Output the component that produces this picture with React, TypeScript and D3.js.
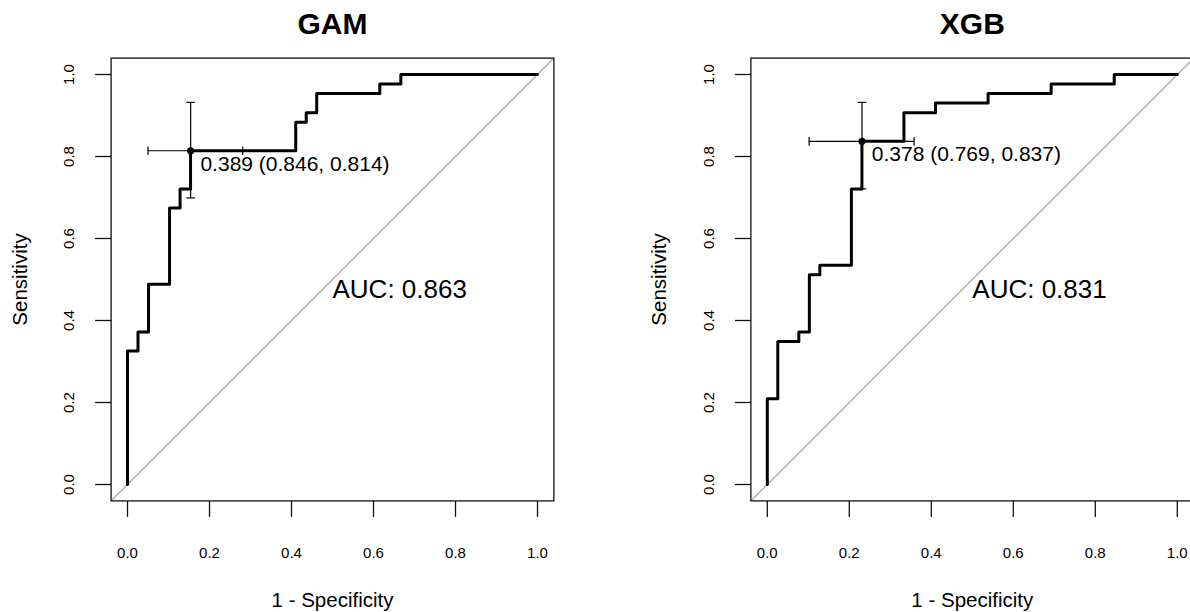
import React from "react";
import * as d3 from "d3";

// ROC step curves: each point is the right end of a horizontal run (1 - specificity) and its sensitivity level
const gamFpr = [0, 0.0256, 0.0513, 0.1026, 0.1282, 0.1538, 0.4103, 0.4359, 0.4615, 0.6154, 0.6667, 1.0];
const gamTpr = [0, 0.3256, 0.372, 0.4884, 0.6744, 0.7209, 0.814, 0.8837, 0.907, 0.9535, 0.9767, 1.0];

const xgbFpr = [0, 0.0256, 0.0769, 0.1026, 0.1282, 0.2051, 0.2308, 0.3333, 0.4103, 0.5385, 0.6923, 0.8462, 1.0];
const xgbTpr = [0, 0.2093, 0.3488, 0.372, 0.5116, 0.5349, 0.7209, 0.8372, 0.907, 0.9302, 0.9535, 0.9767, 1.0];

// Best threshold: [threshold, specificity, sensitivity]
const gamBest = [0.389, 0.846, 0.814];
const xgbBest = [0.378, 0.769, 0.837];

// Confidence intervals at the best threshold: specificity [low, high], sensitivity [low, high]
const gamSpecCI = [0.719, 0.95];
const gamSensCI = [0.699, 0.932];
const xgbSpecCI = [0.642, 0.898];
const xgbSensCI = [0.721, 0.932];

const gamAuc = 0.863;
const xgbAuc = 0.831;

const titles = ["GAM", "XGB"];
const tickValues = [0, 0.2, 0.4, 0.6, 0.8, 1.0];

const FONT = "'Liberation Sans', Arial, Helvetica, sans-serif";

type PanelProps = {
  title: string;
  left: number;
  fpr: number[];
  tpr: number[];
  best: number[];
  specCI: number[];
  sensCI: number[];
  auc: number;
};

function Panel({ title, left, fpr, tpr, best, specCI, sensCI, auc }: PanelProps) {
  const size = 442.8;
  const top = 58.1;
  const x = d3.scaleLinear().domain([-0.04, 1.04]).range([left, left + size]);
  const y = d3.scaleLinear().domain([-0.04, 1.04]).range([top + size, top]);

  const pts: [number, number][] = fpr.map((f, i) => [f, tpr[i]]);
  const line = d3
    .line<[number, number]>()
    .x((d) => x(d[0]))
    .y((d) => y(d[1]))
    .curve(d3.curveStepBefore);

  const bx = x(1 - best[1]);
  const by = y(best[2]);
  const cap = 4.3;
  const clipId = `clip-${title}`;
  const cx = (x(0) + x(1)) / 2;
  const cy = (y(0) + y(1)) / 2;

  return (
    <g>
      <defs>
        <clipPath id={clipId}>
          <rect x={x(-0.04)} y={y(1.04)} width={size} height={size} />
        </clipPath>
      </defs>
      <text x={cx} y={34.3} textAnchor="middle" fontFamily={FONT} fontWeight="bold" fontSize={30}>
        {title}
      </text>
      {/* chance diagonal */}
      <line
        x1={x(-0.04)}
        y1={y(-0.04)}
        x2={x(1.04)}
        y2={y(1.04)}
        stroke="#b5b5b5"
        strokeWidth={1.6}
        clipPath={`url(#${clipId})`}
      />
      <path d={line(pts) || ""} fill="none" stroke="#000" strokeWidth={3} strokeLinejoin="round" strokeLinecap="round" />
      {/* confidence bars */}
      <g stroke="#000" strokeWidth={1.2}>
        <line x1={x(1 - specCI[1])} x2={x(1 - specCI[0])} y1={by} y2={by} />
        <line x1={x(1 - specCI[1])} x2={x(1 - specCI[1])} y1={by - cap} y2={by + cap} />
        <line x1={x(1 - specCI[0])} x2={x(1 - specCI[0])} y1={by - cap} y2={by + cap} />
        <line x1={bx} x2={bx} y1={y(sensCI[1])} y2={y(sensCI[0])} />
        <line x1={bx - cap} x2={bx + cap} y1={y(sensCI[1])} y2={y(sensCI[1])} />
        <line x1={bx - cap} x2={bx + cap} y1={y(sensCI[0])} y2={y(sensCI[0])} />
      </g>
      <circle cx={bx} cy={by} r={3.6} fill="#000" />
      <text x={bx + 9.8} y={by + 20} fontFamily={FONT} fontSize={21} fill="#000">
        {`${best[0].toFixed(3)} (${best[1].toFixed(3)}, ${best[2].toFixed(3)})`}
      </text>
      <text x={x(0.5)} y={y(0.5) + 18.8} fontFamily={FONT} fontSize={26} fill="#000">
        {`AUC: ${auc.toFixed(3)}`}
      </text>
      {/* frame */}
      <rect x={x(-0.04)} y={y(1.04)} width={size} height={size} fill="none" stroke="#111" strokeWidth={1.3} />
      {/* x axis */}
      <g stroke="#111" strokeWidth={1.3}>
        {tickValues.map((t) => (
          <line key={`xt${t}`} x1={x(t)} x2={x(t)} y1={top + size} y2={top + size + 16} />
        ))}
        {tickValues.map((t) => (
          <line key={`yt${t}`} x1={left} x2={left - 16} y1={y(t)} y2={y(t)} />
        ))}
      </g>
      {tickValues.map((t) => (
        <text key={`xl${t}`} x={x(t)} y={558.3} textAnchor="middle" fontFamily={FONT} fontSize={15}>
          {t.toFixed(1)}
        </text>
      ))}
      {tickValues.map((t) => (
        <text
          key={`yl${t}`}
          transform={`translate(${left - 37},${y(t)}) rotate(-90)`}
          textAnchor="middle"
          fontFamily={FONT}
          fontSize={15}
        >
          {t.toFixed(1)}
        </text>
      ))}
      <text x={cx} y={606.5} textAnchor="middle" fontFamily={FONT} fontSize={20.5}>
        1 - Specificity
      </text>
      <text
        transform={`translate(${left - 84.5},${cy}) rotate(-90)`}
        textAnchor="middle"
        fontFamily={FONT}
        fontSize={20.5}
      >
        Sensitivity
      </text>
    </g>
  );
}

export default function App() {
  return (
    <svg
      width={1190}
      height={612}
      style={{ position: "absolute", left: 0, top: 0, background: "#fff" }}
    >
      <rect x={0} y={0} width={1190} height={612} fill="#fff" />
      <Panel
        title={titles[0]}
        left={111.1}
        fpr={gamFpr}
        tpr={gamTpr}
        best={gamBest}
        specCI={gamSpecCI}
        sensCI={gamSensCI}
        auc={gamAuc}
      />
      <Panel
        title={titles[1]}
        left={750.9}
        fpr={xgbFpr}
        tpr={xgbTpr}
        best={xgbBest}
        specCI={xgbSpecCI}
        sensCI={xgbSensCI}
        auc={xgbAuc}
      />
    </svg>
  );
}
